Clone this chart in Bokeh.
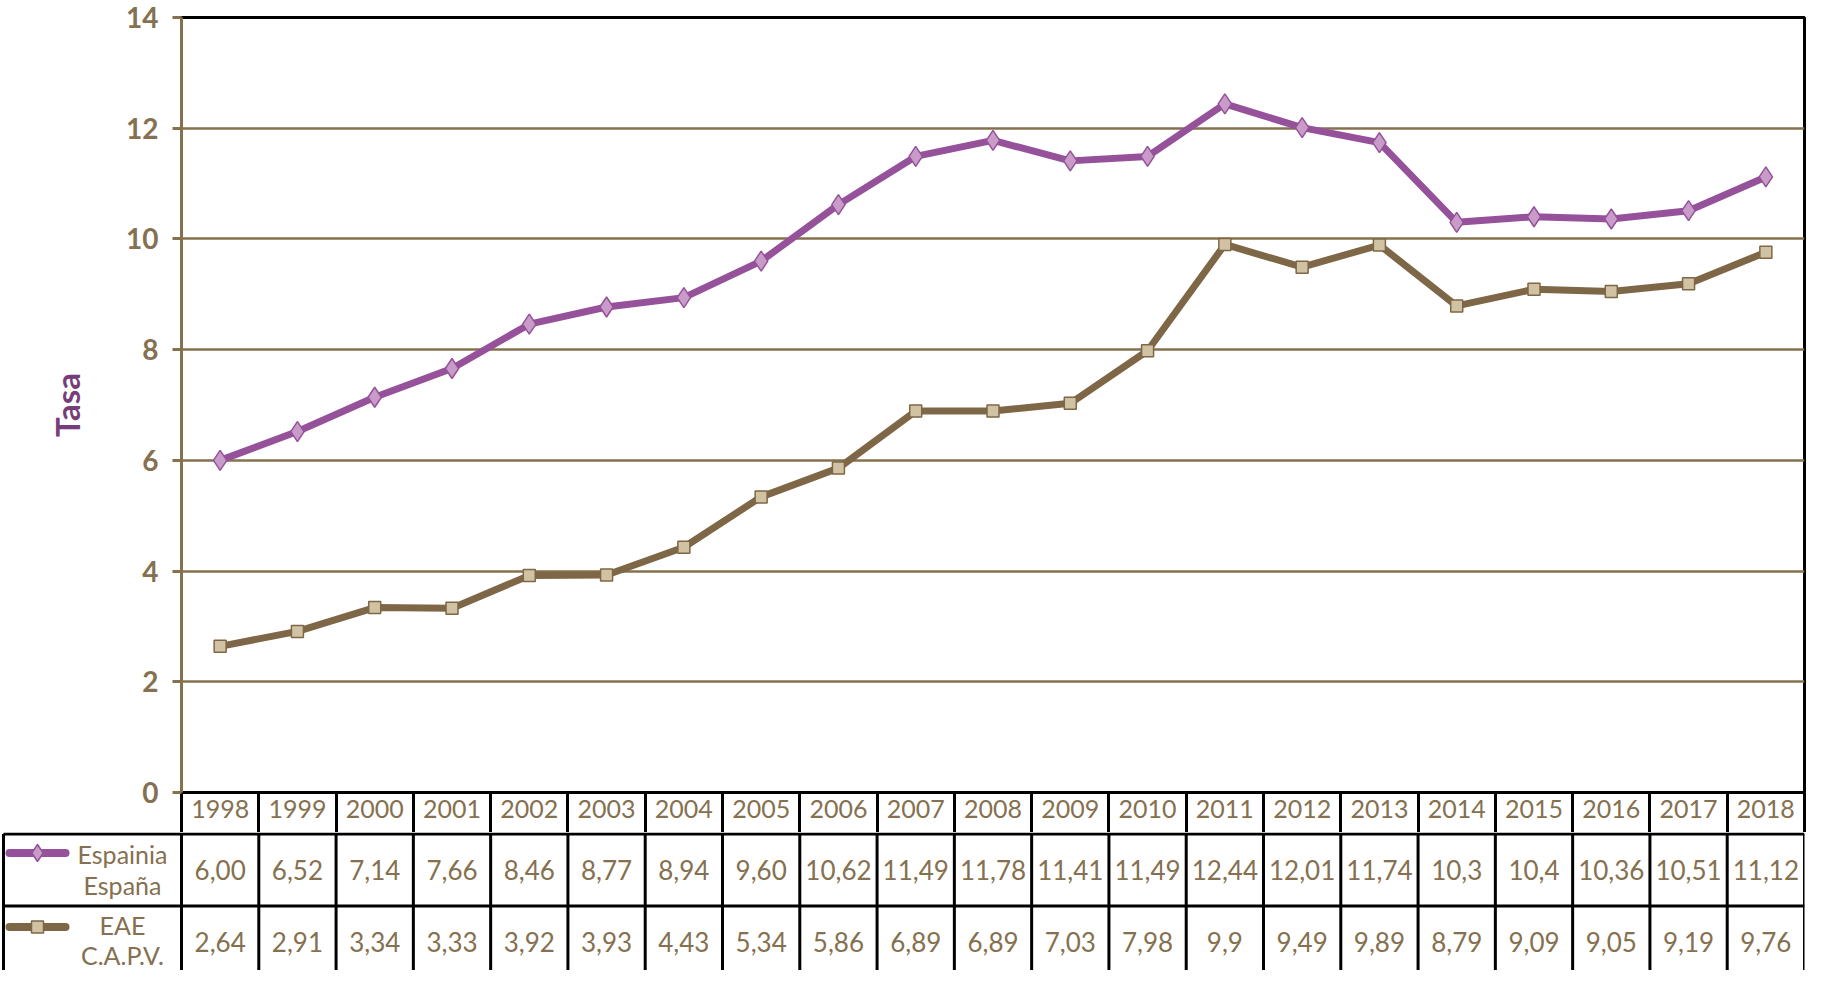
from bokeh.plotting import figure
from bokeh.models import Range1d, FixedTicker, ColumnDataSource
from bokeh.layouts import column
from bokeh.core.properties import value
from bokeh.embed import file_html
from bokeh.resources import INLINE

# ---------------- data ----------------
years = list(range(1998, 2019))
espana = [6.00, 6.52, 7.14, 7.66, 8.46, 8.77, 8.94, 9.60, 10.62, 11.49, 11.78,
          11.41, 11.49, 12.44, 12.01, 11.74, 10.3, 10.4, 10.36, 10.51, 11.12]
capv = [2.64, 2.91, 3.34, 3.33, 3.92, 3.93, 4.43, 5.34, 5.86, 6.89, 6.89,
        7.03, 7.98, 9.9, 9.49, 9.89, 8.79, 9.09, 9.05, 9.19, 9.76]
espana_labels = ["6,00", "6,52", "7,14", "7,66", "8,46", "8,77", "8,94", "9,60",
                 "10,62", "11,49", "11,78", "11,41", "11,49", "12,44", "12,01",
                 "11,74", "10,3", "10,4", "10,36", "10,51", "11,12"]
capv_labels = ["2,64", "2,91", "3,34", "3,33", "3,92", "3,93", "4,43", "5,34",
               "5,86", "6,89", "6,89", "7,03", "7,98", "9,9", "9,49", "9,89",
               "8,79", "9,09", "9,05", "9,19", "9,76"]
series_names = [["Espainia", "España"], ["EAE", "C.A.P.V."]]
y_ticks = [0, 2, 4, 6, 8, 10, 12, 14]
y_label = "Tasa"

# ---------------- style ----------------
FONT = "Lato"
BROWN_TXT = "#85704f"
GRID = "#86714f"
PURPLE = "#95529a"
PURPLE_FILL = "#c99bc9"
BROWN = "#7e6746"
BROWN_FILL = "#d1c2a4"
TASA = "#773d79"

W = 1806
FL = 181          # frame left (figure px)
FR = 1804         # frame right (figure px)
TOP_H = 832
BOT_H = 138
HEAD = 40

x0, x1 = years[0] - 0.5, years[-1] + 0.5
px_per = (FR - FL) / (x1 - x0)

# ---------------- chart ----------------
p = figure(width=W, height=TOP_H, output_backend="svg", toolbar_location=None,
           x_range=Range1d(x0, x1), y_range=Range1d(0, 14),
           min_border_left=FL, min_border_right=W - FR,
           min_border_top=17, min_border_bottom=HEAD)
p.frame_align = False
p.outline_line_color = "black"
p.outline_line_width = 3
p.background_fill_color = "white"
p.border_fill_color = "white"

p.xgrid.visible = False
p.ygrid.ticker = FixedTicker(ticks=y_ticks[1:-1])
p.ygrid.grid_line_color = GRID
p.ygrid.grid_line_width = 2.5

ya = p.yaxis[0]
ya.ticker = FixedTicker(ticks=y_ticks)
ya.axis_line_color = GRID
ya.axis_line_width = 3
ya.major_tick_line_color = GRID
ya.major_tick_line_width = 3
ya.major_tick_out = 9
ya.major_tick_in = 0
ya.minor_tick_line_color = None
ya.major_label_text_font = FONT
ya.major_label_text_font_size = "28px"
ya.major_label_text_font_style = "bold"
ya.major_label_text_color = BROWN_TXT
ya.major_label_standoff = 14
ya.axis_label = y_label
ya.axis_label_text_font = FONT
ya.axis_label_text_font_size = "33px"
ya.axis_label_text_font_style = "bold"
ya.axis_label_text_color = TASA
ya.axis_label_standoff = 36

xa = p.xaxis[0]
xa.ticker = FixedTicker(ticks=years, minor_ticks=[y - 0.5 for y in years] + [x1])
xa.axis_line_color = "black"
xa.axis_line_width = 3
xa.major_tick_line_color = None
xa.major_tick_out = 0
xa.major_tick_in = 0
xa.minor_tick_line_color = "black"
xa.minor_tick_line_width = 3
xa.minor_tick_out = HEAD
xa.minor_tick_in = 0
xa.major_label_text_font = FONT
xa.major_label_text_font_size = "25px"
xa.major_label_text_color = BROWN_TXT
xa.major_label_standoff = 7 - HEAD

src = ColumnDataSource(dict(x=years, esp=espana, eae=capv))
p.line("x", "eae", source=src, line_color=BROWN, line_width=7, line_join="round")
p.scatter("x", "eae", source=src, marker="square", size=12, fill_color=BROWN_FILL,
          line_color=BROWN, line_width=1.5)
p.line("x", "esp", source=src, line_color=PURPLE, line_width=7, line_join="round")
p.scatter("x", "esp", source=src, marker="diamond", size=20, fill_color=PURPLE_FILL,
          line_color=PURPLE, line_width=1.5)

# ---------------- data table below ----------------
BL = 1  # bottom frame left (figure px)
bx0 = x0 - (FL - BL) / px_per
t = figure(width=W, height=BOT_H, output_backend="svg", toolbar_location=None,
           x_range=Range1d(bx0, x1), y_range=Range1d(BOT_H - 1.5, -1.5),
           x_axis_location=None, y_axis_location=None,
           min_border_left=BL, min_border_right=W - FR,
           min_border_top=0, min_border_bottom=0)
t.frame_align = False
t.outline_line_color = None
t.grid.visible = False
t.background_fill_color = "white"
t.border_fill_color = "white"


def px_to_x(px_page):
    # page px -> table data x
    return bx0 + (px_page - 8 - BL) / px_per


tbl_left = px_to_x(11)
ROW = 72
# horizontal borders
t.segment(x0=[tbl_left, tbl_left], y0=[0, ROW], x1=[x1, x1], y1=[0, ROW],
          line_color="black", line_width=3)
# vertical borders
vx = [tbl_left] + [y - 0.5 for y in years] + [x1]
t.segment(x0=vx, y0=[0] * len(vx), x1=vx, y1=[BOT_H + 5] * len(vx),
          line_color="black", line_width=3)

tsrc = ColumnDataSource(dict(x=years, esp=espana_labels, eae=capv_labels,
                             y1=[ROW / 2] * len(years), y2=[ROW * 1.5] * len(years)))
for col, ycol in (("esp", "y1"), ("eae", "y2")):
    t.text("x", ycol, text=col, source=tsrc, text_align="center",
           text_baseline="middle", text_font=value(FONT),
           text_font_size="26px", text_color=BROWN_TXT)

# legend cells
lx = px_to_x(130)
t.text(x=[lx] * 4, y=[20, 51, 91, 121],
       text=series_names[0] + series_names[1],
       text_align="center", text_baseline="middle", text_font=value(FONT),
       text_font_size="25px", text_color=BROWN_TXT)
sx0, sx1, mx = px_to_x(17), px_to_x(73), px_to_x(45)
t.line(x=[sx0, sx1], y=[19, 19], line_color=PURPLE, line_width=8, line_cap="round")
t.scatter(x=[mx], y=[19], marker="diamond", size=17, fill_color=PURPLE_FILL,
          line_color=PURPLE, line_width=1.5)
t.line(x=[sx0, sx1], y=[93, 93], line_color=BROWN, line_width=8, line_cap="round")
t.scatter(x=[mx], y=[93], marker="square", size=12, fill_color=BROWN_FILL,
          line_color=BROWN, line_width=1.5)

layout = column(p, t, spacing=0)
open("out.html", "w").write(file_html(layout, INLINE))
